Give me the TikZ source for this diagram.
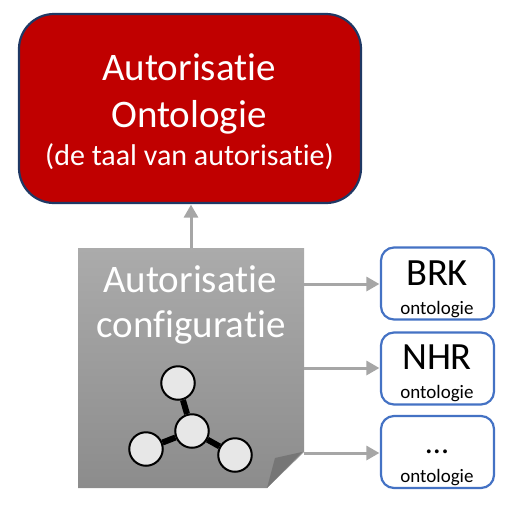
\documentclass[tikz,border=0pt]{standalone}
\usepackage{fontspec}
\setmainfont[Ligatures=NoCommon]{Carlito}
\usetikzlibrary{arrows.meta}
\definecolor{redfill}{HTML}{C00000}
\definecolor{navyline}{HTML}{1F3864}
\definecolor{blueline}{HTML}{4472C4}
\definecolor{arrowgray}{HTML}{A6A6A6}
\definecolor{doctop}{HTML}{ABABAB}
\definecolor{docbottom}{HTML}{8C8C8C}
\definecolor{folddark}{HTML}{767676}
\definecolor{ballfill}{HTML}{E7E7E7}
\tikzset{
  x=1pt,y=-1pt,
  ontobox/.style={draw=blueline,line width=2.2pt,rounded corners=13pt,fill=white,minimum width=113pt,minimum height=72pt,inner sep=0pt},
  conn/.style={draw=arrowgray,line width=3pt,-{Triangle[length=13pt,width=14pt]},shorten >=0.5pt},
  ball/.style={circle,draw=black,line width=2pt,fill=ballfill,minimum size=33.5pt,inner sep=0pt},
  spoke/.style={draw=black,line width=6pt},
  whitetext/.style={text=white,inner sep=0pt,anchor=base},
  blacktext/.style={text=black,inner sep=0pt,anchor=base}
}
\begin{document}
\begin{tikzpicture}
\useasboundingbox (0,0) rectangle (520,515);
% main ontology box
\node[draw=navyline,line width=2.2pt,rounded corners=35pt,fill=redfill,minimum width=342pt,minimum height=189pt,inner sep=0pt] (onto) at (190,108.5) {};
\node[whitetext,font=\fontsize{39}{39}\selectfont] (t1) at (189,80) {Autorisatie};
\node[whitetext,font=\fontsize{39}{39}\selectfont] (t2) at (189,127) {Ontologie};
\node[whitetext,font=\fontsize{30}{30}\selectfont] (t3) at (189.5,165) {(de taal van autorisatie)};
% configuration document
\node[minimum width=226pt,minimum height=240pt,inner sep=0pt] (doc) at (191,368) {};
\shade[top color=doctop,bottom color=docbottom]
  (78,248) -- (304,248) -- (304,452) -- (267,488) -- (78,488) -- cycle;
\fill[folddark] (302,452) -- (275,458) -- (267,488) -- cycle;
\node[whitetext,font=\fontsize{39}{39}\selectfont] (t4) at (190,292) {Autorisatie};
\node[whitetext,font=\fontsize{39}{39}\selectfont] (t5) at (191,337) {configuratie};
% graph icon
\node[ball] (bt) at (178,383) {};
\node[ball] (bl) at (146,449) {};
\node[ball] (br) at (235,455) {};
\node[ball] (bc) at (192,431) {};
\draw[spoke] (bc) -- (bt);
\draw[spoke] (bc) -- (bl);
\draw[spoke] (bc) -- (br);
% small ontology boxes
\node[ontobox] (brk) at (437.5,283.5) {};
\node[ontobox] (nhr) at (437.5,368.5) {};
\node[ontobox] (etc) at (437.5,452) {};
\node[blacktext,font=\fontsize{38.5}{38.5}\selectfont] at (437,285) {BRK};
\node[blacktext,font=\fontsize{19}{19}\selectfont] at (437,314) {ontologie};
\node[blacktext,font=\fontsize{38.5}{38.5}\selectfont] at (437,369) {NHR};
\node[blacktext,font=\fontsize{19}{19}\selectfont] at (437,398) {ontologie};
\node[blacktext,font=\fontsize{32}{32}\selectfont] at (437,453) {...};
\node[blacktext,font=\fontsize{19}{19}\selectfont] at (437,482) {ontologie};
% connectors
\coordinate (d1) at (304,284);
\coordinate (d2) at (304,368);
\coordinate (d3) at (304,453);
\coordinate (du) at (191,248);
\draw[conn] (du) -- (onto.south -| du);
\draw[conn] (d1) -- (brk.west |- d1);
\draw[conn] (d2) -- (nhr.west |- d2);
\draw[conn] (d3) -- (etc.west |- d3);
\end{tikzpicture}
\end{document}
